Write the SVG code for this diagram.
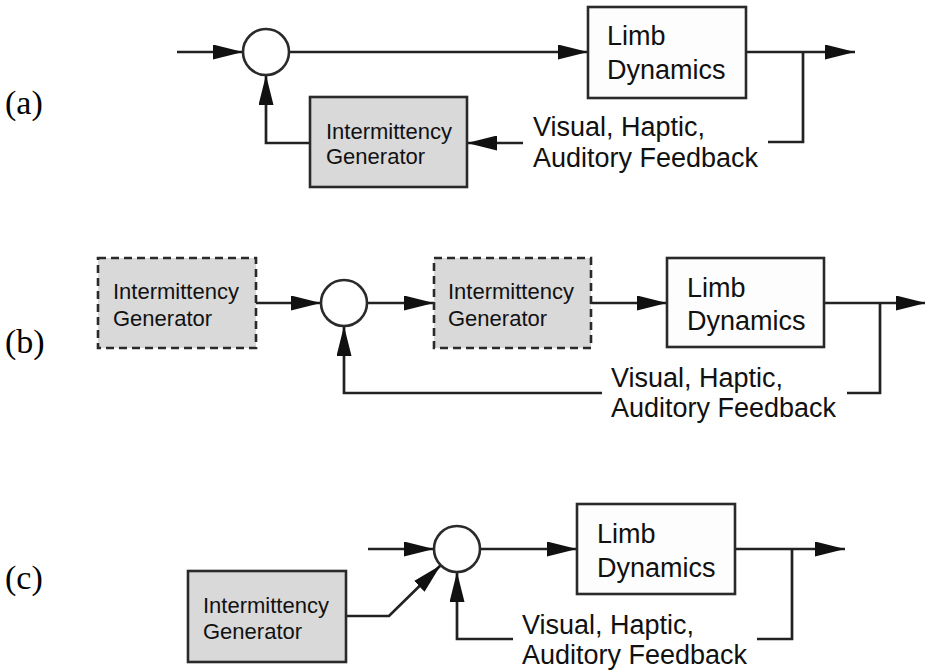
<svg xmlns="http://www.w3.org/2000/svg" width="925" height="670" viewBox="0 0 925 670">
<style>
.box{fill:#fdfdfd;stroke:#2a2a2a;stroke-width:2.6}
.gen{fill:#d9d9d9;stroke:#2a2a2a;stroke-width:2.6}
.dash{fill:#d9d9d9;stroke:#2a2a2a;stroke-width:2.6;stroke-dasharray:8 5}
.sum{fill:#fff;stroke:#2a2a2a;stroke-width:2.6}
.wire{fill:none;stroke:#222;stroke-width:2.7}
.arr{marker-end:url(#ah)}
.t{font-family:"Liberation Sans",Arial,Helvetica,sans-serif;fill:#111}
.small{font-size:22px}
.big{font-size:27px}
.lab{font-family:"Liberation Serif","Times New Roman",serif;font-size:34px;fill:#000}
</style>
<defs>
<marker id="ah" viewBox="0 0 30 15" refX="30" refY="7.5" markerWidth="30" markerHeight="15" markerUnits="userSpaceOnUse" orient="auto">
<path d="M0,0 L30,7.5 L0,15 Z" fill="#111"/>
</marker>
</defs>

<text class="lab" x="5" y="114">(a)</text>
<text class="lab" x="5" y="353">(b)</text>
<text class="lab" x="5" y="589">(c)</text>

<g id="connectors">
<!-- (a) -->
<path class="wire arr" d="M177,52 H243"/>
<path class="wire arr" d="M289,52 H588"/>
<path class="wire arr" d="M746,52 H855"/>
<path class="wire" d="M768,142 H803 V52"/>
<path class="wire arr" d="M523,143 H467"/>
<path class="wire arr" d="M310,143 H266 V75"/>
<!-- (b) -->
<path class="wire arr" d="M256,303 H321"/>
<path class="wire arr" d="M367,303 H434"/>
<path class="wire arr" d="M591,303 H667"/>
<path class="wire arr" d="M824,303 H926"/>
<path class="wire" d="M880,303 V393 H847"/>
<path class="wire arr" d="M602,393 H344 V326"/>
<!-- (c) -->
<path class="wire arr" d="M368,549 H434"/>
<path class="wire arr" d="M480,549 H577"/>
<path class="wire arr" d="M735,549 H845"/>
<path class="wire" d="M757,639 H792 V549"/>
<path class="wire arr" d="M513,639 H457 V572"/>
<path class="wire arr" d="M346,616 H389 L440.7,565.3"/>
</g>

<!-- (a) nodes -->
<g id="a-sum"><circle class="sum" cx="266" cy="52" r="23"/></g>
<g id="a-limb">
<rect class="box" x="588" y="7" width="158" height="91"/>
<text class="t big" x="607" y="45">Limb</text>
<text class="t big" x="607" y="79">Dynamics</text>
</g>
<g id="a-gen">
<rect class="gen" x="310" y="97" width="157" height="90"/>
<text class="t small" x="326" y="139">Intermittency</text>
<text class="t small" x="326" y="164">Generator</text>
</g>
<g id="a-feedback">
<text class="t big" x="533" y="136">Visual, Haptic,</text>
<text class="t big" x="533" y="167">Auditory Feedback</text>
</g>

<!-- (b) nodes -->
<g id="b-gen1">
<rect class="dash" x="98" y="258" width="158" height="90"/>
<text class="t small" x="113" y="299">Intermittency</text>
<text class="t small" x="113" y="326">Generator</text>
</g>
<g id="b-sum"><circle class="sum" cx="344" cy="303" r="23"/></g>
<g id="b-gen2">
<rect class="dash" x="434" y="258" width="157" height="90"/>
<text class="t small" x="448" y="299">Intermittency</text>
<text class="t small" x="448" y="326">Generator</text>
</g>
<g id="b-limb">
<rect class="box" x="667" y="258" width="157" height="89"/>
<text class="t big" x="687" y="297">Limb</text>
<text class="t big" x="687" y="330">Dynamics</text>
</g>
<g id="b-feedback">
<text class="t big" x="611" y="387">Visual, Haptic,</text>
<text class="t big" x="611" y="417">Auditory Feedback</text>
</g>

<!-- (c) nodes -->
<g id="c-sum"><circle class="sum" cx="457" cy="549" r="23"/></g>
<g id="c-limb">
<rect class="box" x="577" y="504" width="158" height="90"/>
<text class="t big" x="597" y="543">Limb</text>
<text class="t big" x="597" y="577">Dynamics</text>
</g>
<g id="c-gen">
<rect class="gen" x="188" y="571" width="158" height="91"/>
<text class="t small" x="203" y="613">Intermittency</text>
<text class="t small" x="203" y="639">Generator</text>
</g>
<g id="c-feedback">
<text class="t big" x="522" y="634">Visual, Haptic,</text>
<text class="t big" x="522" y="664">Auditory Feedback</text>
</g>
</svg>
